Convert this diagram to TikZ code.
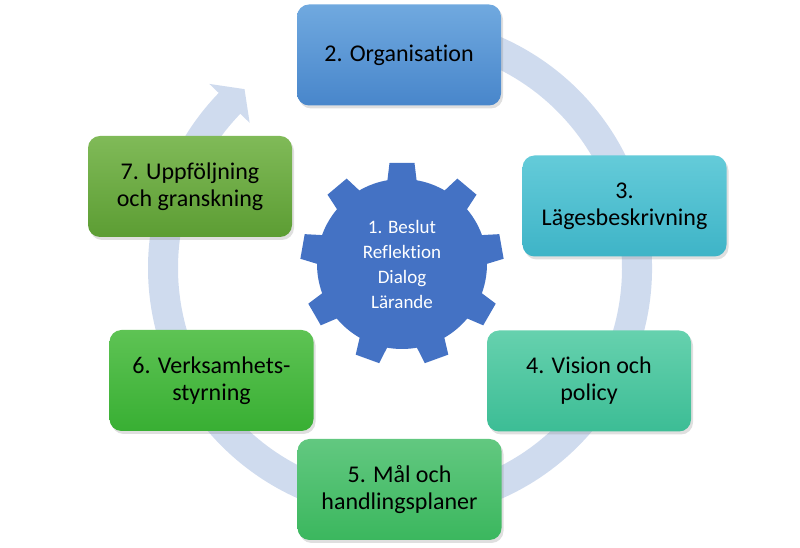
\documentclass[tikz,border=0pt]{standalone}
\usepackage{fontspec}
\setmainfont[RawFeature={-liga;-dlig}]{Carlito}
\usetikzlibrary{shadows}
\definecolor{ringc}{HTML}{CFDBEE}
\definecolor{gearc}{HTML}{4472C4}
\definecolor{btwoT}{HTML}{70A9DF}\definecolor{btwoB}{HTML}{4886CB}
\definecolor{bthrT}{HTML}{64CBD9}\definecolor{bthrB}{HTML}{3EB4C7}
\definecolor{bfouT}{HTML}{66D1AE}\definecolor{bfouB}{HTML}{3CBD95}
\definecolor{bfivT}{HTML}{62C880}\definecolor{bfivB}{HTML}{3BB75E}
\definecolor{bsixT}{HTML}{5EC354}\definecolor{bsixB}{HTML}{38AF33}
\definecolor{bsevT}{HTML}{80BA58}\definecolor{bsevB}{HTML}{5C9D33}
\begin{document}
\begin{tikzpicture}[x=1pt,y=1pt,
  stagebox/.style={rounded corners=12pt, minimum width=204pt, minimum height=101pt,
    inner sep=2pt, align=center, text=black, font=\fontsize{24}{27}\selectfont,
    drop shadow={shadow xshift=2pt,shadow yshift=-3pt,opacity=0.25}},
  geartext/.style={text=white, align=center, font=\fontsize{19}{25}\selectfont}]
\useasboundingbox (0,0) rectangle (800,548);
% cycle arrow
\coordinate (c) at (400,280);
\fill[ringc] ([shift={(100:252)}]c) arc[start angle=100,end angle=-224,radius=252]
  -- ([shift={(-224:265)}]c) -- ([shift={(-229:237)}]c) -- ([shift={(-224:209)}]c)
  -- ([shift={(-224:222)}]c) arc[start angle=-224,end angle=100,radius=222] -- cycle;
% gear
\coordinate (g) at (402,284);
\fill[gearc] (g) circle[radius=85];
\foreach \a in {0,40,...,320}{
  \begin{scope}[shift={(402,284)}, rotate=\a]
    \fill[gearc] (-16,72) -- (-12.5,101) -- (12.5,101) -- (16,72) -- cycle;
  \end{scope}
}
\node[geartext] (gt) at (g) {1. Beslut\\Reflektion\\Dialog\\Lärande};
% stage boxes
\node[stagebox, top color=btwoT, bottom color=btwoB] (b2) at (399,493) {2. Organisation};
\node[stagebox, top color=bthrT, bottom color=bthrB] (b3) at (624.5,342) {3.\\Lägesbeskrivning};
\node[stagebox, top color=bfouT, bottom color=bfouB] (b4) at (589,167) {4. Vision och\\policy};
\node[stagebox, top color=bfivT, bottom color=bfivB] (b5) at (399.5,58.5) {5. Mål och\\handlingsplaner};
\node[stagebox, top color=bsixT, bottom color=bsixB] (b6) at (211.5,167.5) {6. Verksamhets-\\styrning};
\node[stagebox, top color=bsevT, bottom color=bsevB] (b7) at (190,361.5) {7. Uppföljning\\och granskning};
\end{tikzpicture}
\end{document}
